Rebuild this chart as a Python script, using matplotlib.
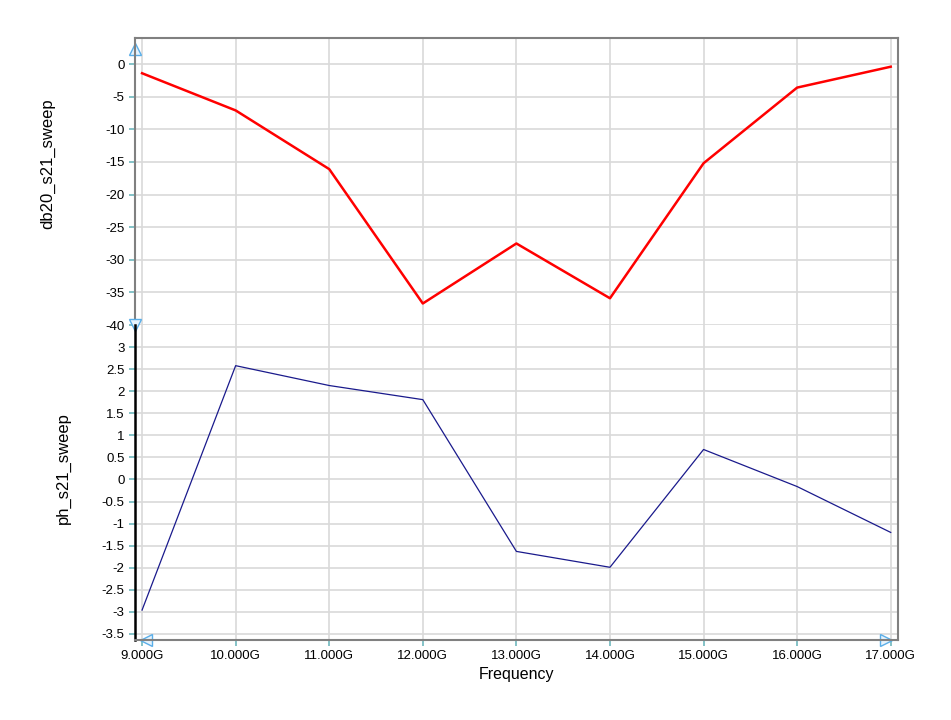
import matplotlib
matplotlib.use("Agg")
import matplotlib.pyplot as plt

plt.rcParams['font.family'] = ['Liberation Sans', 'DejaVu Sans']

freq_ghz = [9, 10, 11, 12, 13, 14, 15, 16, 17]
db20_s21 = [-1.4, -7.1, -16.1, -36.7, -27.5, -35.9, -15.2, -3.6, -0.4]
ph_s21 = [-2.96, 2.58, 2.13, 1.81, -1.63, -1.99, 0.68, -0.16, -1.2]

top_ticks = [0, -5, -10, -15, -20, -25, -30, -35, -40]
bot_ticks = [3, 2.5, 2, 1.5, 1, 0.5, 0, -0.5, -1, -1.5, -2, -2.5, -3, -3.5]

grid_c = '#d9d9d9'
frame_c = '#808080'
tick_c = '#6fb7bd'

fig = plt.figure(figsize=(9.51, 7.2), dpi=100)
ax1 = fig.add_axes([0.142, 0.5486, 0.802, 0.3986])
ax2 = fig.add_axes([0.142, 0.111, 0.802, 0.4375], sharex=ax1)

ax1.plot(freq_ghz, db20_s21, color='#ff0000', lw=1.8)
ax2.plot(freq_ghz, ph_s21, color='#1a1a8c', lw=0.9)

ax1.set_ylim(-40, 4)
ax2.set_ylim(-3.64, 3.5)
ax1.set_xlim(8.925, 17.075)

ax1.set_yticks(top_ticks)
ax1.set_yticklabels([str(t) for t in top_ticks])
ax2.set_yticks(bot_ticks)
ax2.set_yticklabels([('%g' % t) for t in bot_ticks])
ax2.set_xticks(freq_ghz)
ax2.set_xticklabels(['%.3fG' % f for f in freq_ghz])

for ax in (ax1, ax2):
    ax.grid(True, color=grid_c, lw=1.2)
    ax.set_axisbelow(True)
    ax.tick_params(axis='both', colors=tick_c, labelcolor='black',
                   labelsize=9.5, length=4, width=1.2)
    for s in ax.spines.values():
        s.set_color(frame_c)
        s.set_linewidth(1.5)

ax1.spines['bottom'].set_visible(False)
ax1.tick_params(axis='x', bottom=False, labelbottom=False)
ax2.spines['top'].set_visible(False)
ax2.spines['left'].set_color('black')
ax2.spines['left'].set_linewidth(1.8)

ax1.set_ylabel('db20_s21_sweep', fontsize=12)
ax2.set_ylabel('ph_s21_sweep', fontsize=12)
ax1.yaxis.set_label_coords(-0.105, 0.561)
ax2.yaxis.set_label_coords(-0.084, 0.546)
ax2.set_xlabel('Frequency', fontsize=11.5, labelpad=3)

# small arrow handles on axis ends
arrow_c = '#5aaee8'
fill_c = '#e6f3fd'
ax1.plot([0], [0.96], marker='^', transform=ax1.transAxes, color=fill_c,
         mec=arrow_c, ms=8, clip_on=False)
ax2.plot([0], [1.0], marker='v', transform=ax2.transAxes, color=fill_c,
         mec=arrow_c, ms=8, clip_on=False)
ax2.plot([0.015], [0], marker='<', transform=ax2.transAxes, color=fill_c,
         mec=arrow_c, ms=8, clip_on=False)
ax2.plot([0.985], [0], marker='>', transform=ax2.transAxes, color=fill_c,
         mec=arrow_c, ms=8, clip_on=False)

fig.savefig('out.png', dpi=100)
